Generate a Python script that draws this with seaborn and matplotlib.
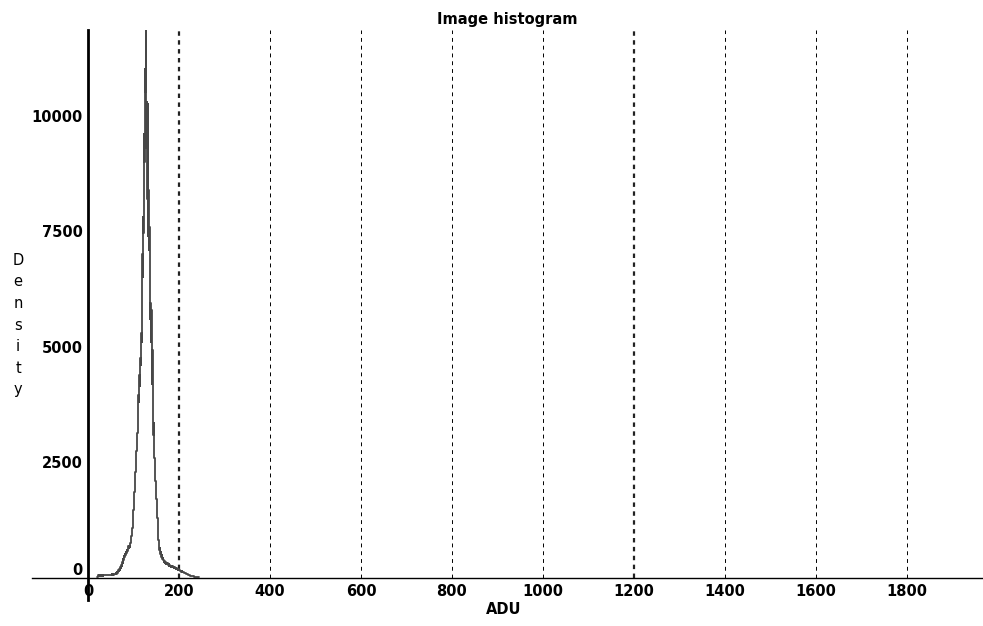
import matplotlib
matplotlib.use('Agg')

import numpy as np
import pandas as pd
import matplotlib.pyplot as plt
import seaborn as sns

# ADU values (1 ADU bins) and counts
adu_start = 20
counts = [
    30, 45, 40, 55, 50, 60, 48, 52, 58, 50,            # 20-29
    55, 62, 50, 58, 64, 57, 60, 66, 59, 63,            # 30-39
    61, 68, 60, 65, 70, 63, 72, 66, 70, 75,            # 40-49
    68, 74, 80, 72, 78, 85, 76, 90, 84, 95,            # 50-59
    90, 105, 98, 120, 112, 140, 130, 165, 150, 195,    # 60-69
    180, 230, 215, 280, 260, 340, 320, 410, 380, 470,  # 70-79
    450, 520, 500, 560, 540, 600, 580, 690, 620, 700,  # 80-89
    660, 700, 680, 760, 820, 900, 980, 1080, 1180, 1320,      # 90-99
    1480, 1650, 1850, 2050, 2300, 2500, 2750, 2950, 3130, 3350,  # 100-109
    3600, 3950, 3800, 4400, 4150, 4750, 4600, 5300, 5100, 7000,  # 110-119
    6500, 7800, 7450, 9600, 9000, 11000, 10500, 11850, 9300, 10300,  # 120-129
    8200, 10260, 7400, 8400, 7100, 7580, 5600, 5940, 5100, 5800,  # 130-139
    4200, 4920, 4000, 4400, 3100, 3350, 2600, 2500, 2100, 1950,   # 140-149
    1700, 1680, 1300, 1150, 950, 820, 750, 600, 640, 520,         # 150-159
    560, 460, 500, 420, 440, 380, 400, 350, 370, 330,             # 160-169
    345, 310, 330, 300, 320, 290, 280, 300, 265, 280,             # 170-179
    250, 270, 240, 255, 235, 250, 240, 230, 245, 225,             # 180-189
    235, 215, 225, 205, 215, 195, 205, 180, 190, 170,             # 190-199
    180, 165, 170, 150, 160, 140, 145, 130, 135, 120,             # 200-209
    125, 110, 115, 100, 105, 90, 95, 80, 85, 70,                  # 210-219
    72, 62, 65, 55, 58, 48, 50, 42, 45, 38,                       # 220-229
    40, 34, 36, 30, 32, 27, 28, 24, 25, 20,                       # 230-239
    22, 18, 15, 12, 10, 6,                                        # 240-245
]
adu = list(range(adu_start, adu_start + len(counts)))

xticks = [0, 200, 400, 600, 800, 1000, 1200, 1400, 1600, 1800]
yticks = [0, 2500, 5000, 7500, 10000]

df = pd.DataFrame({'ADU': adu, 'count': counts})

sns.set_style('white')
plt.rcParams['font.family'] = ['DejaVu Sans']
plt.rcParams['text.color'] = 'black'
plt.rcParams['xtick.color'] = 'black'
plt.rcParams['ytick.color'] = 'black'

fig = plt.figure(figsize=(9.83, 6.26), dpi=100)
ax = fig.add_axes([32 / 983, 26 / 626, 951 / 983, 570 / 626])

sns.histplot(data=df, x='ADU', weights='count', binwidth=1, element='step',
             fill=False, color='#474747', linewidth=1.3, ax=ax)

ax.set_xlim(-123, 1967)
ax.set_ylim(-475, max(counts))

# dashed vertical grid, only above the axis line
for t in xticks[1:]:
    if t in (200, 1200):
        ax.vlines(t, 0, max(counts), colors='#222222', linestyles=(0, (2, 2)),
                  linewidth=1.6, zorder=0)
    else:
        ax.vlines(t, 0, max(counts), colors='black', linestyles=(0, (4, 4)),
                  linewidth=0.7, zorder=0)

for s in ['top', 'right']:
    ax.spines[s].set_visible(False)
ax.spines['left'].set_position(('data', 0))
ax.spines['left'].set_linewidth(2)
ax.spines['bottom'].set_position(('data', 0))
ax.spines['bottom'].set_linewidth(1)
ax.spines['left'].set_color('black')
ax.spines['bottom'].set_color('black')

ax.set_xticks(xticks)
ax.set_yticks(yticks)
ax.set_xticklabels([str(t) for t in xticks], fontweight='bold', fontsize=10.5,
                   color='black')
ax.set_yticklabels([str(t) for t in yticks], fontweight='bold', fontsize=10.5,
                   color='black')
ax.tick_params(axis='both', direction='in', length=8, width=1, color='black', pad=4)
ax.get_yticklabels()[0].set_va('bottom')

ax.set_xlabel('')
ax.set_ylabel('')
ax.set_title('Image histogram', fontweight='bold', fontsize=10.5, pad=4,
             color='black')
fig.text(504 / 983, 1 - 609 / 626, 'ADU', ha='center', va='center',
         fontsize=10.5, fontweight='bold', color='black')
fig.text(18 / 983, 1 - 325 / 626, 'D\ne\nn\ns\ni\nt\ny', ha='center', va='center',
         fontsize=10.5, linespacing=1.55, color='black')

fig.savefig('out.png', dpi=100)
